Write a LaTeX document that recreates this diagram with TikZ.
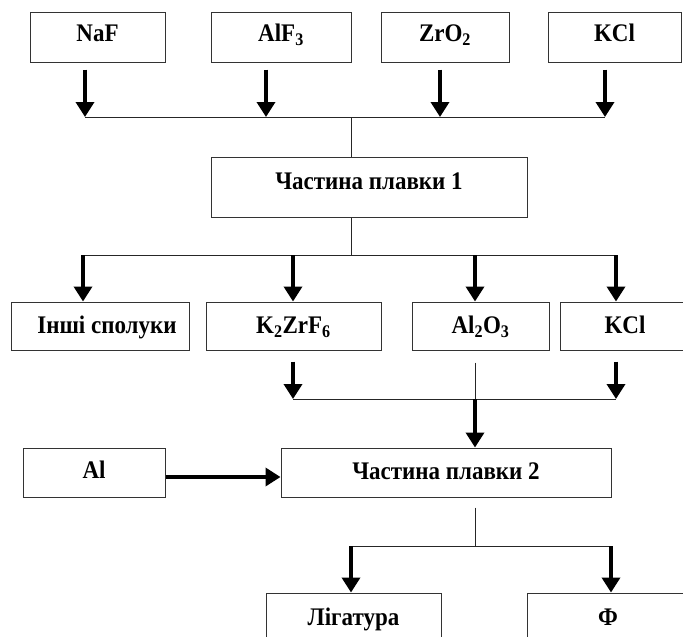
\documentclass[tikz,border=0pt]{standalone}
\usepackage{fontspec}
\usepackage{graphicx}
\setmainfont{Liberation Serif}
\usetikzlibrary{arrows.meta}
\newcommand\tallt[1]{\scalebox{1}[1.1]{#1}}
\begin{document}
\begin{tikzpicture}[x=1pt,y=-1pt,
  box/.style={draw=black!80, line width=1pt, inner sep=0pt, fill=white,
    font=\bfseries\fontsize{23}{27}\selectfont, text height=15.5pt, text depth=0pt},
  fatarrow/.style={line width=3.6pt, -{Triangle[width=18pt,length=15pt]}},
  thinline/.style={line width=1pt, draw=black!85}]
\useasboundingbox (0,0) rectangle (683,637);
\clip (0,0) rectangle (683,637);
% row 1
\node[box, minimum width=135pt, minimum height=50pt, text depth=7.5pt] (naf) at (97.5,37) {\tallt{NaF}};
\node[box, minimum width=140pt, minimum height=50pt, text depth=7.5pt] (alf) at (281,37) {\tallt{AlF\textsubscript{3}}};
\node[box, minimum width=128pt, minimum height=50pt, text depth=7.5pt] (zro) at (445,37) {\tallt{ZrO\textsubscript{2}}};
\node[box, minimum width=133pt, minimum height=50pt, text depth=7.5pt] (kcla) at (614.5,37) {\tallt{KCl}};
% melt part 1
\node[box, minimum width=316pt, minimum height=60pt, text depth=11.5pt] (p1) at (369,187) {\tallt{Частина плавки 1}};
% row 3
\node[box, minimum width=178pt, minimum height=48pt] (ins) at (100,326) {\hspace*{14pt}\tallt{Інші сполуки}};
\node[box, minimum width=175pt, minimum height=48pt] (kzr) at (293.5,326) {\tallt{K\textsubscript{2}ZrF\textsubscript{6}}};
\node[box, minimum width=137pt, minimum height=48pt] (alo) at (480.5,326) {\tallt{Al\textsubscript{2}O\textsubscript{3}}};
\node[box, minimum width=130pt, minimum height=48pt] (kclb) at (625,326) {\tallt{KCl}};
% melt part 2
\node[box, minimum width=142pt, minimum height=49pt, text depth=3.5pt] (al) at (94,472.5) {\tallt{Al}};
\node[box, minimum width=330pt, minimum height=49pt, text depth=1.5pt] (p2) at (446,472.5) {\tallt{Частина плавки 2}};
% bottom
\node[box, minimum width=175pt, minimum height=49pt] (lig) at (353.5,617.5) {\tallt{Лігатура}};
\node[box, minimum width=162pt, minimum height=49pt] (phi) at (608,617.5) {\tallt{Ф}};
% junction coordinates
\coordinate (a1) at (85,117);
\coordinate (a2) at (266,117);
\coordinate (a3) at (440,117);
\coordinate (a4) at (605,117);
\coordinate (j1) at (351,117);
\coordinate (b1) at (83,255);
\coordinate (b2) at (293,255);
\coordinate (b3) at (475,255);
\coordinate (b4) at (616,255);
\coordinate (j2) at (351,255);
\coordinate (c1) at (293,399);
\coordinate (c3) at (475,399);
\coordinate (c4) at (616,399);
\coordinate (d1) at (351,546);
\coordinate (d3) at (475,546);
\coordinate (d4) at (611,546);
% top arrows
\draw[fatarrow] (a1 |- naf.south) ++(0,7) -- (a1);
\draw[fatarrow] (a2 |- alf.south) ++(0,7) -- (a2);
\draw[fatarrow] (a3 |- zro.south) ++(0,7) -- (a3);
\draw[fatarrow] (a4 |- kcla.south) ++(0,7) -- (a4);
\draw[thinline] (a1) -- (a4);
\draw[thinline] (j1) -- (j1 |- p1.north);
% from part 1
\draw[thinline] (j2 |- p1.south) -- (j2);
\draw[thinline] (b1) -- (b4);
\draw[fatarrow] (b1) -- (b1 |- ins.north);
\draw[fatarrow] (b2) -- (b2 |- kzr.north);
\draw[fatarrow] (b3) -- (b3 |- alo.north);
\draw[fatarrow] (b4) -- (b4 |- kclb.north);
% to part 2
\draw[fatarrow] (c1 |- kzr.south) ++(0,11) -- (c1);
\draw[fatarrow] (c4 |- kclb.south) ++(0,11) -- (c4);
\draw[thinline] (c3 |- alo.south) ++(0,12) -- (c3);
\draw[thinline] (c1) -- (c4);
\draw[fatarrow] (c3) -- (c3 |- p2.north);
\draw[fatarrow] ([yshift=-4.5pt]al.east) -- ([yshift=-4.5pt]p2.west);
% from part 2
\draw[thinline] (d3 |- p2.south) ++(0,10) -- (d3);
\draw[thinline] (d1) -- (d4);
\draw[fatarrow] (d1) -- (d1 |- lig.north);
\draw[fatarrow] (d4) -- (d4 |- phi.north);
\end{tikzpicture}
\end{document}
